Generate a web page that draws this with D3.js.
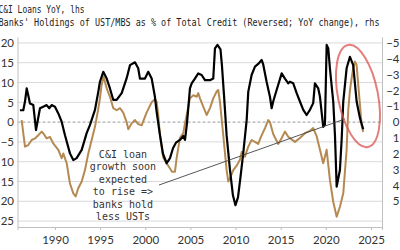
<!DOCTYPE html>
<html>
<head>
<meta charset="utf-8">
<script src="https://cdn.jsdelivr.net/npm/d3@7"></script>
<style>
  body { margin: 0; background: #fff; }
  svg { display: block; }
</style>
</head>
<body>
<svg id="chart" width="400" height="250"></svg>
<script>
// C&I loans YoY (lhs)
const loanYears = [1986.12,1986.49,1986.68,1986.87,1987.04,1987.23,1987.6,1987.9,1988.34,1988.7,1989.08,1989.37,1989.63,1990.0,1990.37,1990.74,1991.11,1991.66,1992.03,1992.4,1992.96,1993.51,1993.88,1994.43,1994.8,1994.98,1995.35,1995.73,1996.09,1996.46,1996.83,1997.39,1997.94,1998.31,1998.86,1999.22,1999.41,1999.97,2000.33,2000.71,2001.07,2001.26,2001.63,2001.96,2002.37,2002.74,2003.07,2003.4,2003.84,2004.21,2004.4,2004.62,2004.95,2005.14,2005.5,2005.87,2006.25,2006.61,2007.17,2007.53,2007.72,2008.0,2008.33,2008.49,2008.72,2009.01,2009.38,2009.71,2009.99,2010.27,2010.54,2010.85,2011.23,2011.41,2011.78,2012.15,2012.51,2012.89,2013.07,2013.44,2013.81,2014.0,2014.17,2014.55,2015.11,2015.47,2015.84,2016.02,2016.39,2016.77,2017.13,2017.5,2017.87,2018.24,2018.6,2018.79,2019.16,2019.35,2019.71,2019.9,2020.09,2020.27,2020.45,2020.82,2021.01,2021.2,2021.56,2021.75,2021.93,2022.3,2022.67,2023.03,2023.41,2023.78,2024.14];
const loanValues = [3.0,3.0,5.2,8.5,6.8,4.7,4.3,-2.0,3.5,3.9,4.3,3.5,4.3,3.9,2.2,0.1,-3.3,-7.9,-9.6,-9.1,-7.0,-2.8,-0.7,3.1,7.7,10.2,12.7,11.0,8.5,5.6,5.6,7.3,11.1,14.4,15.1,13.6,11.0,11.0,12.7,11.0,6.4,2.6,-3.3,-8.0,-10.4,-9.1,-6.6,-5.2,-4.5,-3.5,-4.5,-0.3,8.5,9.8,11.0,12.3,11.9,10.6,10.6,11.0,18.6,19.5,18.4,14.4,6.8,-3.3,-12,-18.5,-21,-19,-14,-7.9,0.5,7.7,11.9,14.0,14.7,15.7,14.5,10.2,6.4,3.5,5.2,8.1,12.3,11.0,9.8,10.2,9.8,7.3,5.2,3.1,1.8,3.1,4.8,9.8,8.5,6.4,-1.2,-0.7,19.5,18.6,13.6,5.2,-3.3,-16.3,-12.1,-4.5,5.2,13.6,16.5,14.4,5.2,1.0,-1.8];

// Banks' UST/MBS holdings as % of total credit, YoY change (rhs, reversed)
const ustYears = [1986.31,1986.49,1986.68,1987.04,1987.42,1987.79,1988.15,1988.53,1988.7,1989.08,1989.45,1989.81,1990.37,1990.74,1990.92,1991.3,1991.66,1992.03,1992.29,1992.58,1992.96,1993.32,1993.69,1994.06,1994.43,1994.77,1994.98,1995.17,1995.37,1995.73,1996.09,1996.46,1996.83,1997.2,1997.56,1997.94,1998.12,1998.49,1998.86,1999.22,1999.6,2000.15,2000.71,2001.07,2001.26,2001.44,2001.63,2001.99,2002.37,2002.74,2002.96,2003.29,2003.48,2003.84,2004.21,2004.4,2004.59,2004.95,2005.32,2005.69,2005.87,2006.06,2006.42,2006.8,2007.17,2007.53,2007.91,2008.08,2008.27,2008.64,2009.01,2009.19,2009.38,2009.75,2010.12,2010.49,2010.68,2011.04,2011.41,2011.78,2012.15,2012.51,2012.81,2013.26,2013.62,2013.81,2014.17,2014.73,2015.11,2015.47,2015.84,2016.58,2017.13,2017.69,2018.24,2018.6,2018.98,2019.35,2019.71,2020.09,2020.45,2020.82,2021.2,2021.56,2021.93,2022.3,2022.48,2022.67,2022.85,2023.03,2023.22,2023.41,2023.59,2023.78,2023.96,2024.14];
const ustValues = [-0.13,0.7,1.55,1.45,1.13,1.03,0.83,0.6,0.7,1.03,0.93,1.35,1.75,2.28,1.98,2.6,3.88,4.5,4.7,4.18,3.75,3.03,1.98,1.13,0.3,-0.75,-1.5,-2.38,-2.88,-2.13,-1.6,-0.88,-0.75,-0.88,-0.6,0,0.45,0.08,-0.13,0.13,0.2,-0.6,-1.25,-1.45,-1.3,-0.45,0.83,2.25,2.6,2.93,3.13,3.13,2.25,1.0,0.7,0.08,-0.45,-1.5,-1.7,-1.6,-1.83,-1.5,-0.98,-0.45,-0.88,-1.5,-1.93,-2.03,-1.3,0.83,3.03,3.75,3.55,3.03,2.75,2.38,1.88,2.18,1.55,1.13,1.25,1.38,0.93,0.38,-0.13,0,0.75,1.38,1.0,0.6,0.93,1.25,1.0,0.7,0.55,0.38,0.88,1.75,2.6,1.75,3.65,5.03,5.98,5.35,4.5,1.75,-0.75,-2,-2.75,-3.4,-3.83,-3.6,-2.35,-1.08,0.18,0.63];

const leftTicks = [20, 15, 10, 5, 0, -5, -10, -15, -20, -25];
const rightTicks = [-5, -4, -3, -2, -1, 0, 1, 2, 3, 4, 5];
const yearTicks = [1990, 1995, 2000, 2005, 2010, 2015, 2020, 2025];

const titleLines = ["C&I Loans YoY, lhs",
  "Banks' Holdings of UST/MBS as % of Total Credit (Reversed; YoY change), rhs"];
const noteLines = ["C&I loan", "growth soon", "expected", "to rise =>", "banks hold", "less USTs"];

const svg = d3.select("#chart");
const plotLeft = 17.5, plotRight = 382, plotTop = 37, plotBottom = 227;

const x = d3.scaleLinear().domain([1985.85, 2026.22]).range([plotLeft, plotRight]);
const y = d3.scaleLinear().domain([-26.5, 21.5]).range([plotBottom, plotTop]);
const y2 = d3.scaleLinear().domain([6.625, -5.375]).range([plotBottom, plotTop]);

// title
svg.selectAll(".title")
  .data(titleLines)
  .join("text")
  .attr("class", "title")
  .attr("x", -1.5)
  .attr("y", (d, i) => 12.5 + i * 13.2)
  .attr("textLength", (d, i) => i == 0 ? 86 : 381)
  .attr("lengthAdjust", "spacingAndGlyphs")
  .style("font-family", "'DejaVu Sans Mono', monospace")
  .style("font-size", "10.5px")
  .style("fill", "#222")
  .text(d => d);

// gridlines
svg.append("g")
  .selectAll("line")
  .data(leftTicks.filter(d => d != 0))
  .join("line")
  .attr("x1", plotLeft).attr("x2", plotRight)
  .attr("y1", d => y(d)).attr("y2", d => y(d))
  .attr("stroke", "#d9d9d9")
  .attr("stroke-width", 1);

svg.append("line")
  .attr("x1", plotLeft).attr("x2", plotRight)
  .attr("y1", y(0)).attr("y2", y(0))
  .attr("stroke", "#999")
  .attr("stroke-dasharray", "3,2")
  .attr("stroke-width", 1);

// axes
let axisLeft = svg.append("g")
  .attr("transform", `translate(${plotLeft},0)`)
  .call(d3.axisLeft(y).tickValues(leftTicks).tickSize(0).tickPadding(3.5).tickFormat(d3.format("d")));
let axisRight = svg.append("g")
  .attr("transform", `translate(${plotRight},0)`)
  .call(d3.axisRight(y2).tickValues(rightTicks).tickSize(0).tickPadding(17.5).tickFormat(d3.format("d")));
axisRight.selectAll("text").attr("text-anchor", "end");
let axisBottom = svg.append("g")
  .attr("transform", `translate(0,${plotBottom})`)
  .call(d3.axisBottom(x).tickValues(yearTicks).tickSize(3).tickPadding(6).tickFormat(d3.format("d")));

[axisLeft, axisRight, axisBottom].forEach(g => {
  g.select(".domain").attr("stroke", "#bfbfbf");
  g.selectAll(".tick line").attr("stroke", "#bfbfbf");
  g.selectAll("text")
    .style("font-family", "Lato, 'Open Sans', sans-serif")
    .style("font-size", "11.5px")
    .style("fill", "#333");
});

// lines
const ustLine = d3.line()
  .x((d, i) => x(ustYears[i]))
  .y(d => y2(d));
const loanLine = d3.line()
  .x((d, i) => x(loanYears[i]))
  .y(d => y(d));

svg.append("path")
  .datum(ustValues)
  .attr("d", ustLine)
  .attr("fill", "none")
  .attr("stroke", "#b58a52")
  .attr("stroke-width", 2)
  .attr("stroke-linejoin", "round");

svg.append("path")
  .datum(loanValues)
  .attr("d", loanLine)
  .attr("fill", "none")
  .attr("stroke", "#000")
  .attr("stroke-width", 2.2)
  .attr("stroke-linejoin", "round");

// annotation arrow line and text
svg.append("line")
  .attr("x1", x(2001.52)).attr("y1", y(-15.9))
  .attr("x2", x(2022.12)).attr("y2", y(0.8))
  .attr("stroke", "#444")
  .attr("stroke-width", 0.9);

svg.append("g")
  .selectAll("text")
  .data(noteLines)
  .join("text")
  .attr("x", x(1997.53))
  .attr("y", (d, i) => 157.5 + i * 12.5)
  .attr("text-anchor", "middle")
  .style("font-family", "'DejaVu Sans Mono', monospace")
  .style("font-size", "10px")
  .style("fill", "#333")
  .text(d => d);

// red circle round the last peak
svg.append("ellipse")
  .attr("cx", 0).attr("cy", 0)
  .attr("rx", 20).attr("ry", 52)
  .attr("transform", `translate(${x(2023.56)},${y(6.6)}) rotate(-11)`)
  .attr("fill", "none")
  .attr("stroke", "#d9534f")
  .attr("stroke-opacity", 0.75)
  .attr("stroke-width", 2);
</script>
</body>
</html>
